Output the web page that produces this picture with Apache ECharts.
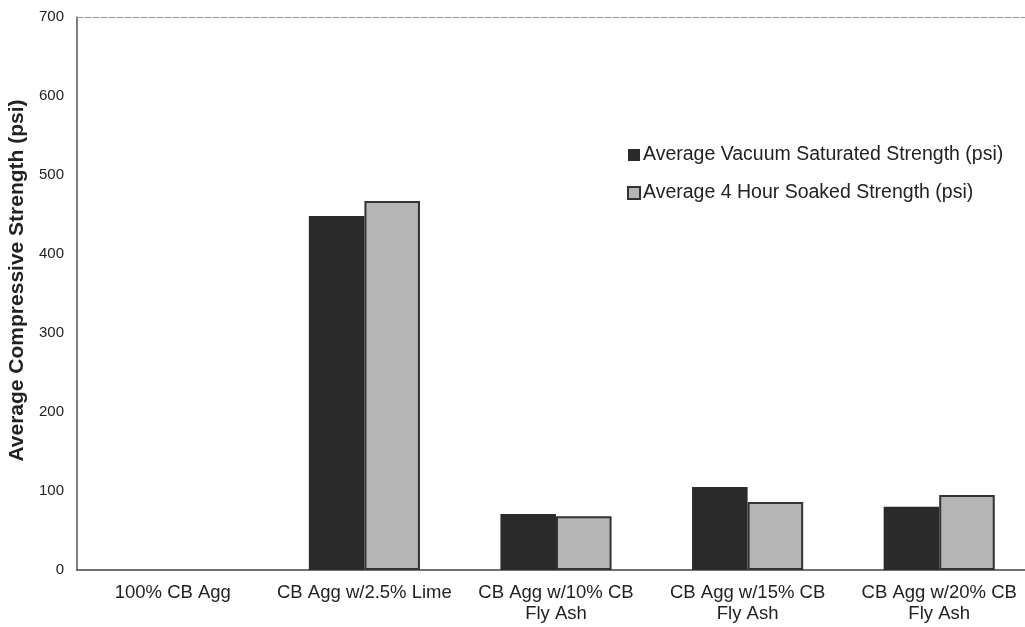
<!DOCTYPE html>
<html>
<head>
<meta charset="utf-8">
<title>Average Compressive Strength</title>
<script src="https://cdn.jsdelivr.net/npm/echarts@6/dist/echarts.min.js"></script>
<style>
  html, body { margin: 0; padding: 0; background: #fff; }
  #chart { width: 1025px; height: 627px; }
</style>
</head>
<body>
<div id="chart"></div>
<script>
// Mix designs along the x axis
const categories = [
  '100% CB Agg',
  'CB Agg w/2.5% Lime',
  'CB Agg w/10% CB\nFly Ash',
  'CB Agg w/15% CB\nFly Ash',
  'CB Agg w/20% CB\nFly Ash'
];

// Compressive strength, psi
const vacuumSaturated = [0, 448, 71, 105, 80];
const soaked4Hour = [0, 467, 68, 86, 95];

const seriesNames = [
  'Average Vacuum Saturated Strength (psi)',
  'Average 4 Hour Soaked Strength (psi)'
];

const yMin = 0;
const yMax = 700;
const yStep = 100;

const font = 'Liberation Sans, Arial, Helvetica, sans-serif';

// zero-height bars get no outline so nothing shows on the baseline
const withOutline = (values, width) =>
  values.map(v => ({ value: v, itemStyle: { borderWidth: v > 0 ? width : 0 } }));

const chart = echarts.init(document.getElementById('chart'), null, { renderer: 'canvas' });

chart.setOption({
  animation: false,
  backgroundColor: '#ffffff',
  textStyle: { fontFamily: font, color: '#222' },
  grid: {
    left: 77, top: 17, bottom: 57, right: -10,
    containLabel: false,
    outerBoundsMode: 'none'
  },
  legend: {
    orient: 'vertical',
    left: 622,
    top: 140,
    itemWidth: 12,
    itemHeight: 12,
    itemGap: 18,
    icon: 'rect',
    textStyle: { fontFamily: font, fontSize: 19.5, color: '#222', padding: [0, 0, 0, -2] },
    data: seriesNames
  },
  xAxis: [
    {
      type: 'category',
      data: categories,
      axisLine: { show: true, lineStyle: { color: '#444', width: 1.5 } },
      axisTick: { show: false },
      axisLabel: {
        interval: 0,
        fontFamily: font,
        fontSize: 18.5,
        lineHeight: 21,
        color: '#222',
        margin: 12
      },
      splitLine: { show: false }
    },
    {
      type: 'category',
      position: 'top',
      data: categories,
      axisLine: { show: true, lineStyle: { color: '#999', width: 1, type: [6, 2] } },
      axisTick: { show: false },
      axisLabel: { show: false }
    }
  ],
  yAxis: {
    type: 'value',
    min: yMin,
    max: yMax,
    interval: yStep,
    name: 'Average Compressive Strength (psi)',
    nameLocation: 'middle',
    nameGap: 48,
    nameRotate: 90,
    nameTextStyle: {
      fontFamily: font, fontSize: 21, fontWeight: 'bold', color: '#222',
      padding: [0, 0, 0, 26]
    },
    axisLine: { show: true, lineStyle: { color: '#555', width: 1.5 } },
    axisTick: { show: false },
    axisLabel: { fontFamily: font, fontSize: 15, color: '#222', margin: 13 },
    splitLine: { show: false }
  },
  series: [
    {
      name: seriesNames[0],
      type: 'bar',
      data: vacuumSaturated,
      barGap: '0%',
      barCategoryGap: '42%',
      itemStyle: { color: '#2a2a2a', borderWidth: 0 }
    },
    {
      name: seriesNames[1],
      type: 'bar',
      data: withOutline(soaked4Hour, 2),
      itemStyle: { color: '#b5b5b5', borderColor: '#333', borderWidth: 2 }
    }
  ]
});
</script>
</body>
</html>
